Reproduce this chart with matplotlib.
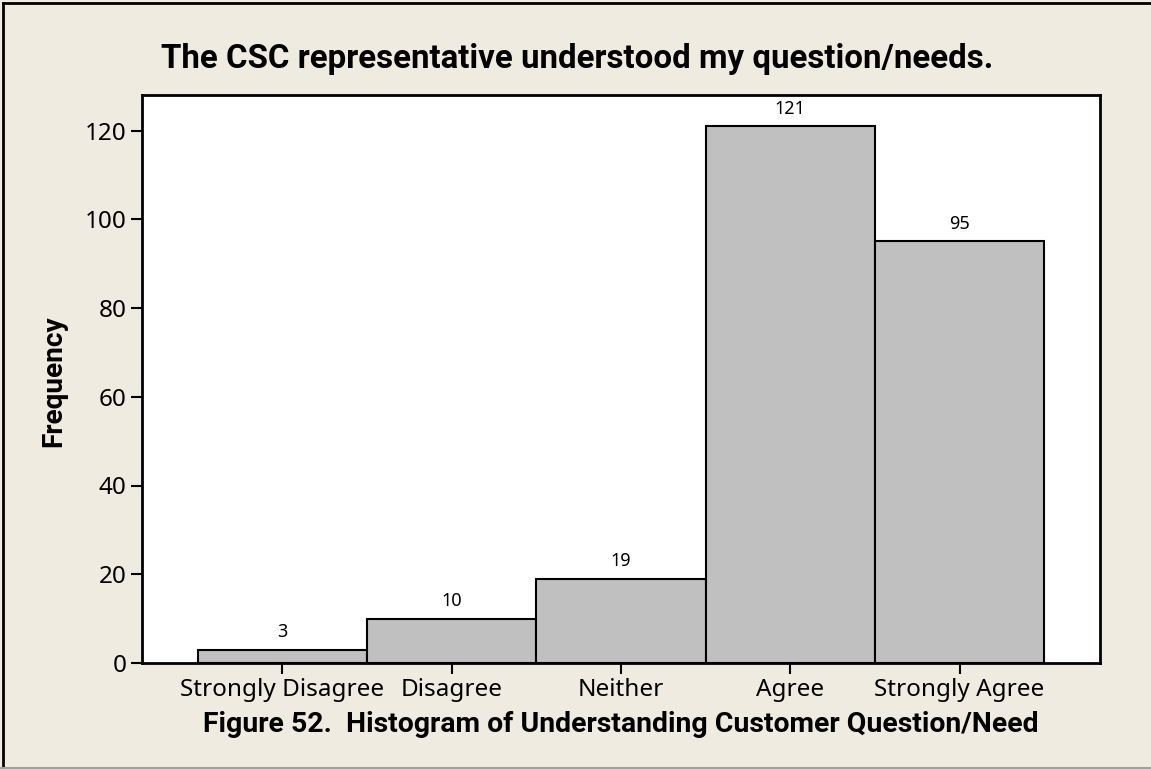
import matplotlib
matplotlib.use("Agg")
import matplotlib.pyplot as plt
from matplotlib.lines import Line2D

categories = ["Strongly Disagree", "Disagree", "Neither", "Agree", "Strongly Agree"]
counts = [3, 10, 19, 121, 95]
yticks = [0, 20, 40, 60, 80, 100, 120]

title = "The CSC representative understood my question/needs."
caption = "Figure 52.  Histogram of Understanding Customer Question/Need"

BG = "#efebe1"
BAR = "#c0c0c0"
FONT = "Noto Sans"
BOLD = ["Roboto", "DejaVu Sans"]

W, H = 1151, 769
fig = plt.figure(figsize=(W / 100, H / 100), dpi=100, facecolor=BG)
ax = fig.add_axes([142 / W, (H - 663) / H, (1100 - 142) / W, (663 - 95) / H])
ax.set_facecolor("white")

x = list(range(len(categories)))
ax.bar(x, counts, width=1.0, color=BAR, edgecolor="black", linewidth=1.5)
for xi, c in zip(x, counts):
    ax.annotate(str(c), (xi, c), xytext=(0, 6), textcoords="offset points",
                ha="center", va="bottom", fontsize=13, family=FONT)

ax.set_xlim(-0.83, 4.83)
ax.set_ylim(0, 128)
ax.set_xticks(x)
ax.set_xticklabels(categories, fontsize=17.5, family=FONT)
ax.set_yticks(yticks)
ax.set_yticklabels([str(v) for v in yticks], fontsize=17.5, family=FONT)
ax.tick_params(direction="out", length=8, width=1.5, pad=3)
for s in ax.spines.values():
    s.set_linewidth(2)

ylab = fig.text(54 / W, 1 - 381 / H, "Frequency", rotation=90, ha="center", va="center",
                fontsize=16, fontweight="bold", family=BOLD)
t = fig.text(577 / W, 1 - 59 / H, title, ha="center", va="center",
             fontsize=20, fontweight="bold", family=BOLD)
cap = fig.text(621 / W, 1 - 725 / H, caption, ha="center", va="center",
               fontsize=18, fontweight="bold", family=BOLD)

# scale bold texts to the widths they take in the reference
r = fig.canvas.get_renderer()
for txt, target, vertical in [(t, 830, False), (cap, 837, False), (ylab, 132, True)]:
    bb = txt.get_window_extent(r)
    size = bb.height if vertical else bb.width
    txt.set_fontsize(txt.get_fontsize() * target / size)

# outer frame
fig.add_artist(Line2D([3 / W, 3 / W], [0, 1 - 3 / H], color="black", lw=2, transform=fig.transFigure))
fig.add_artist(Line2D([3 / W, 1], [1 - 3 / H, 1 - 3 / H], color="black", lw=2, transform=fig.transFigure))
fig.add_artist(Line2D([0, 1], [1 / H, 1 / H], color="#a0a0a0", lw=1.5, transform=fig.transFigure))

fig.savefig("out.png", dpi=100, facecolor=BG)
